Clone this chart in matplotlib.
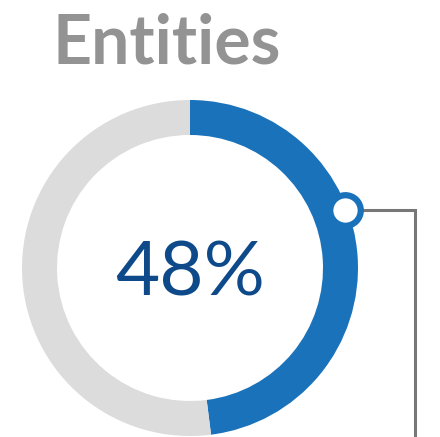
import numpy as np
import matplotlib
matplotlib.use('Agg')
import matplotlib.pyplot as plt

TITLE = 'Entities'
SHARE = 48                      # percent of entities
values = [SHARE, 100 - SHARE]
colors = ['#1a72bb', '#dcdcdc']

W, H = 440, 437
CENTER = (190, H - 268)
R_OUT, RING = 168, 35

# callout point on the ring, measured clockwise from 12 o'clock
CALLOUT_DEG = 69.5
CALLOUT_R = 166
LINE_X = 415

fig = plt.figure(figsize=(W / 100, H / 100), dpi=100)
ax = fig.add_axes([0, 0, 1, 1])

ax.pie(values, colors=colors, startangle=90, counterclock=False,
       radius=R_OUT, center=CENTER,
       wedgeprops=dict(width=RING, linewidth=0))

ax.set_xlim(0, W)
ax.set_ylim(0, H)
ax.set_aspect('equal')
ax.axis('off')

# callout marker and elbow leader line
theta = np.deg2rad(CALLOUT_DEG)
mx = CENTER[0] + CALLOUT_R * np.sin(theta)
my = CENTER[1] + CALLOUT_R * np.cos(theta)
ax.plot([mx, LINE_X, LINE_X], [my, my, 0], color='#777777', lw=2.2,
        solid_joinstyle='miter', zorder=3)
ax.plot(mx, my, 'o', ms=22, mfc='white', mec='#1a72bb', mew=4.5, zorder=4)

ax.text(CENTER[0], CENTER[1] - 6, f'{SHARE}%', ha='center', va='center',
        fontsize=55, fontfamily='Lato', fontweight='normal', color='#0e4a8a')

fig.text(52 / W, 1 - 64 / H, TITLE, ha='left', va='baseline',
         fontsize=49, fontfamily='Lato', fontweight='bold', color='#939393')

fig.savefig('out.png', dpi=100)
